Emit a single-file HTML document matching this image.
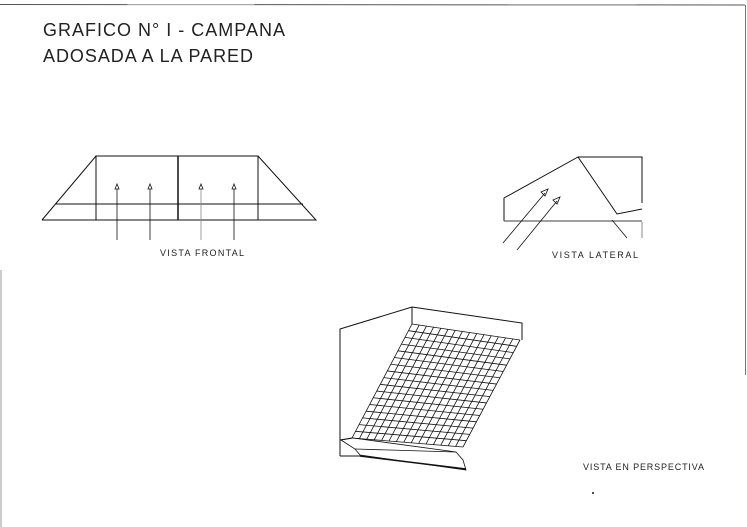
<!DOCTYPE html>
<html><head><meta charset="utf-8"><style>
html,body{margin:0;padding:0;background:#fff}
svg{display:block}
text{font-family:"Liberation Sans",sans-serif;fill:#222}
</style></head><body>
<svg id="s" width="747" height="527" viewBox="0 0 747 527" xmlns="http://www.w3.org/2000/svg" stroke="#111" fill="none" stroke-width="1">
<line x1="0" y1="4.5" x2="745" y2="5" stroke="#555"/>
<line x1="745.5" y1="5" x2="745.5" y2="375" stroke="#777"/>
<line x1="1" y1="270" x2="1" y2="527" stroke="#999"/>
<text x="43" y="36" font-size="18" stroke="none" fill="#333" textLength="242" lengthAdjust="spacing">GRAFICO N° I - CAMPANA</text>
<text x="43" y="62" font-size="18" stroke="none" fill="#333" textLength="210" lengthAdjust="spacing">ADOSADA A LA PARED</text>
<!-- frontal -->
<polyline points="42,220 96,156 258,156 316,220 42,220"/>
<rect x="96" y="156" width="162" height="64"/>
<line x1="178" y1="156" x2="178" y2="220" stroke-width="1.5"/>
<line x1="55" y1="204" x2="303" y2="204"/>
<g stroke-width="0.8">
<line x1="117" y1="189" x2="117" y2="240"/><polygon points="117,184 115,189 119,189"/>
<line x1="150" y1="189" x2="150" y2="240"/><polygon points="150,184 148,189 152,189"/>
<line x1="201" y1="189" x2="201" y2="240" stroke="#888"/><polygon points="201,184 199,189 203,189"/>
<line x1="234" y1="189" x2="234" y2="240"/><polygon points="234,184 232,189 236,189"/>
</g>
<text x="160" y="256" font-size="9" stroke="none" textLength="84" lengthAdjust="spacing">VISTA FRONTAL</text>
<!-- lateral -->
<polyline points="504,221 504,198 578,157 617,214 642,209"/>
<polyline points="578,157 642,157 642,203"/>
<line x1="504" y1="221" x2="642" y2="221" stroke="#666" stroke-width="1.3"/>
<line x1="642" y1="222" x2="642" y2="238" stroke="#888"/>
<line x1="612" y1="220" x2="627" y2="238" stroke-width="0.8"/>
<g stroke-width="0.8">
<line x1="503" y1="243" x2="545" y2="193"/><polygon points="548,189 541,192 545,196"/>
<line x1="517" y1="250" x2="557" y2="201"/><polygon points="560,197 553,200 557,204"/>
</g>
<text x="552" y="258" font-size="9" stroke="none" textLength="86" lengthAdjust="spacing">VISTA LATERAL</text>
<!-- perspective -->
<polyline points="340,456 340,329 412,307 522,323 522,340"/>
<line x1="412" y1="307" x2="412" y2="324"/>
<polyline points="340,440 352,438"/>
<polygon points="341,440 355,449 360,455 466,470 463,460 456,452 353,438" stroke-width="0.8"/>
<line x1="355" y1="449" x2="456" y2="452" stroke-width="0.8"/>
<line x1="340" y1="456" x2="360" y2="456"/>
<line x1="360" y1="456" x2="466" y2="469" stroke-width="1.5"/>
<g id="grid" stroke-width="0.8"></g>
<text x="583" y="470" font-size="9" stroke="none" textLength="121" lengthAdjust="spacing">VISTA EN PERSPECTIVA</text>
<circle cx="593" cy="493" r="1" fill="#111" stroke="none"/>
</svg>
<script>
var g=document.getElementById('grid'),ns='http://www.w3.org/2000/svg';
var TL=[412,324],TR=[520,340],BR=[463,447],BL=[352,438];
function P(u,v){var a=TL[0]+(TR[0]-TL[0])*u,b=TL[1]+(TR[1]-TL[1])*u,c=BL[0]+(BR[0]-BL[0])*u,d=BL[1]+(BR[1]-BL[1])*u;return[a+(c-a)*v,b+(d-b)*v];}
function L(p,q){var l=document.createElementNS(ns,'line');l.setAttribute('x1',p[0]);l.setAttribute('y1',p[1]);l.setAttribute('x2',q[0]);l.setAttribute('y2',q[1]);g.appendChild(l);}
var R=17,C=15,i;
for(i=0;i<=R;i++)L(P(0,i/R),P(1,i/R));
for(i=0;i<=C;i++)L(P(i/C,0),P(i/C,1));
</script>
</body></html>
